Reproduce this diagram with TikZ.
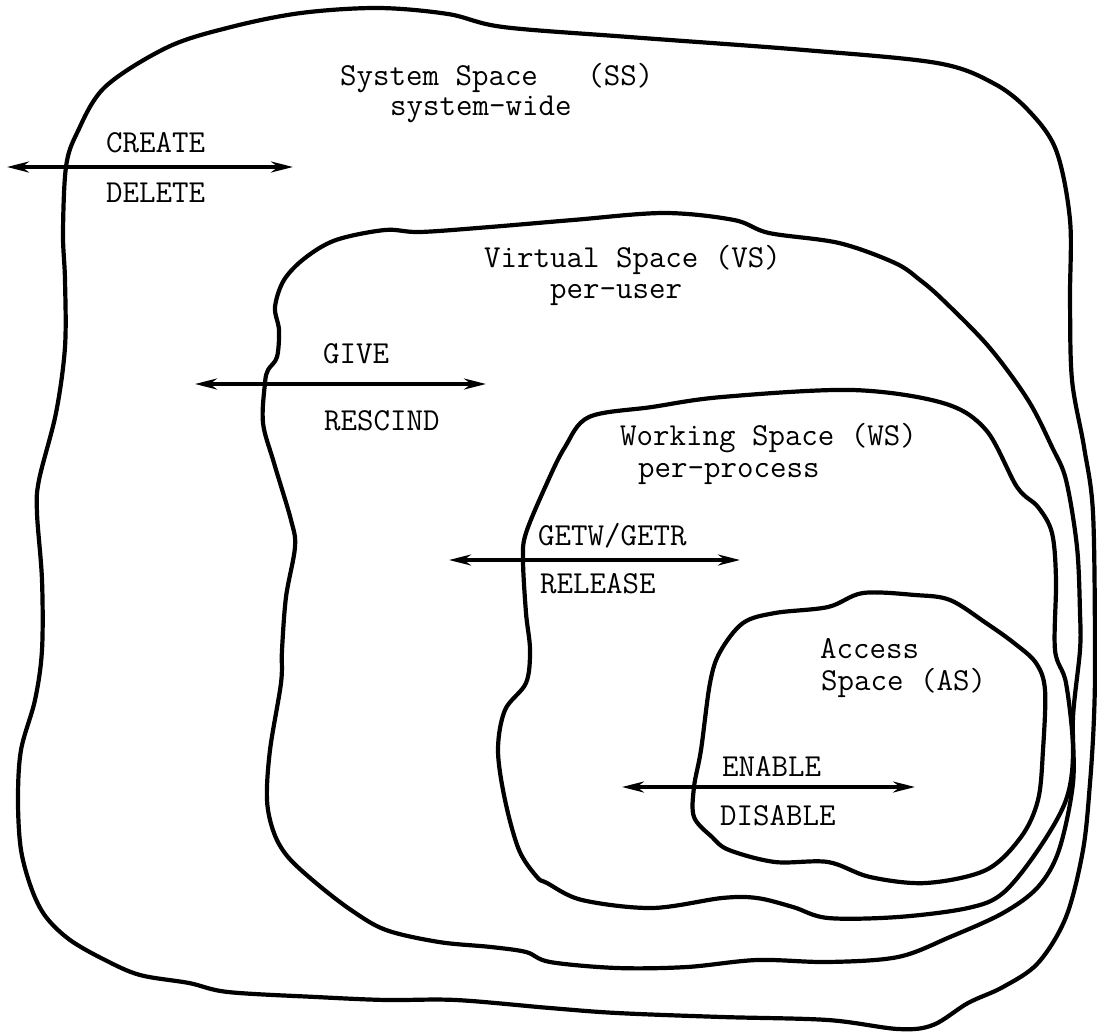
\documentclass[tikz,border=0pt]{standalone}
\usetikzlibrary{arrows.meta}
\begin{document}
\begin{tikzpicture}[x=1pt,y=-1pt,
  region/.style={line width=4.2pt, line join=round},
  opline/.style={line width=3.3pt, {Stealth[length=22pt,width=11pt]}-{Stealth[length=22pt,width=11pt]}},
  lbl/.style={font=\ttfamily\fontsize{32}{35}\selectfont, inner sep=0pt, anchor=base west}]
\useasboundingbox (0,0) rectangle (1097,1033);

% System Space
\draw[region] plot[smooth cycle, tension=0.55] coordinates {
 (168,47) (231,27) (301,13) (378,8) (448,14) (503,27) (629,37) (804,50) (937,63)
 (993,83) (1028,110) (1056,150) (1070,220) (1070,300) (1072,380) (1084,447)
 (1093,513) (1095,650) (1094,717) (1090,783) (1083,850) (1066,917) (1038,963)
 (1003,987) (968,1003) (933,1025) (898,1029) (828,1020) (722,1017) (617,1013)
 (550,1008) (456,1000) (386,1000) (316,997) (228,992) (189,983) (140,975)
 (105,960) (70,940) (46,917) (32,890) (21,850) (18,800) (21,750) (35,700)
 (42,650) (42,580) (37,513) (39,480) (56,413) (65,347) (65,280) (63,233)
 (66,167) (77,133) (105,87)};

% Virtual Space
\draw[region] plot[smooth cycle, tension=0.55] coordinates {
 (336,240) (385,230) (420,232) (490,227) (573,220) (664,213) (734,220) (769,233)
 (839,243) (895,263) (920,280) (943,300) (989,347) (1028,400) (1052,447)
 (1066,480) (1077,547) (1080,613) (1080,650) (1073,717) (1073,783) (1059,850)
 (1038,887) (1003,913) (950,937) (898,957) (828,962) (757,960) (687,967)
 (617,968) (550,962) (526,952) (491,947) (439,942) (386,930) (351,910)
 (316,883) (288,857) (274,833) (267,800) (270,750) (281,683) (282,650)
 (286,597) (295,547) (291,520) (274,463) (263,423) (265,383) (268,370)
 (277,357) (279,330) (275,307) (284,280) (305,258)};

% Working Space
\draw[region] plot[smooth cycle, tension=0.55] coordinates {
 (565,447) (589,417) (652,407) (722,397) (852,390) (943,403) (986,430)
 (1017,487) (1038,507) (1052,533) (1056,580) (1055,650) (1066,683) (1073,750)
 (1066,800) (1038,850) (1003,893) (968,908) (898,917) (828,918) (793,907)
 (757,898) (722,898) (652,908) (582,900) (547,883) (537,877) (519,850)
 (505,800) (498,750) (505,710) (526,683) (530,650) (526,613) (523,560)
 (526,533) (547,483)};

% Access Space
\draw[region] plot[smooth cycle, tension=0.55] coordinates {
 (743,623) (775,613) (828,607) (863,593) (915,595) (950,600) (986,623)
 (1014,643) (1036,663) (1045,690) (1043,750) (1038,800) (1021,837) (986,870)
 (926,883) (870,877) (828,862) (775,862) (729,850) (712,837) (694,817)
 (694,787) (701,750) (710,683) (720,652)};

% Labels
\node[lbl] (ss1) at (340,85) {System Space\ \ \ (SS)};
\node[lbl] (ss2) at (390,115) {system-wide};
\node[lbl] (vs1) at (484,267) {Virtual Space (VS)};
\node[lbl] (vs2) at (550,298) {per-user};
\node[lbl] (ws1) at (620,445) {Working Space (WS)};
\node[lbl] (ws2) at (638,477) {per-process};
\node[lbl] (as1) at (820,658) {Access};
\node[lbl] (as2) at (821,690) {Space (AS)};

\node[lbl] (create) at (106,152) {CREATE};
\node[lbl] (delete) at (106,202) {DELETE};
\node[lbl] (give) at (323,363) {GIVE};
\node[lbl] (rescind) at (324,430) {RESCIND};
\node[lbl] (getw) at (538,545) {GETW/GETR};
\node[lbl] (release) at (540,593) {RELEASE};
\node[lbl] (enable) at (722,776) {ENABLE};
\node[lbl] (disable) at (720,825) {DISABLE};

% Operation arrows
\coordinate (c1) at (7,167);   \coordinate (c2) at (293,167);
\coordinate (g1) at (195,384); \coordinate (g2) at (486,384);
\coordinate (w1) at (449,560); \coordinate (w2) at (740,560);
\coordinate (e1) at (622,787); \coordinate (e2) at (915,787);
\draw[opline] (c1) -- (c2);
\draw[opline] (g1) -- (g2);
\draw[opline] (w1) -- (w2);
\draw[opline] (e1) -- (e2);
\end{tikzpicture}
\end{document}
